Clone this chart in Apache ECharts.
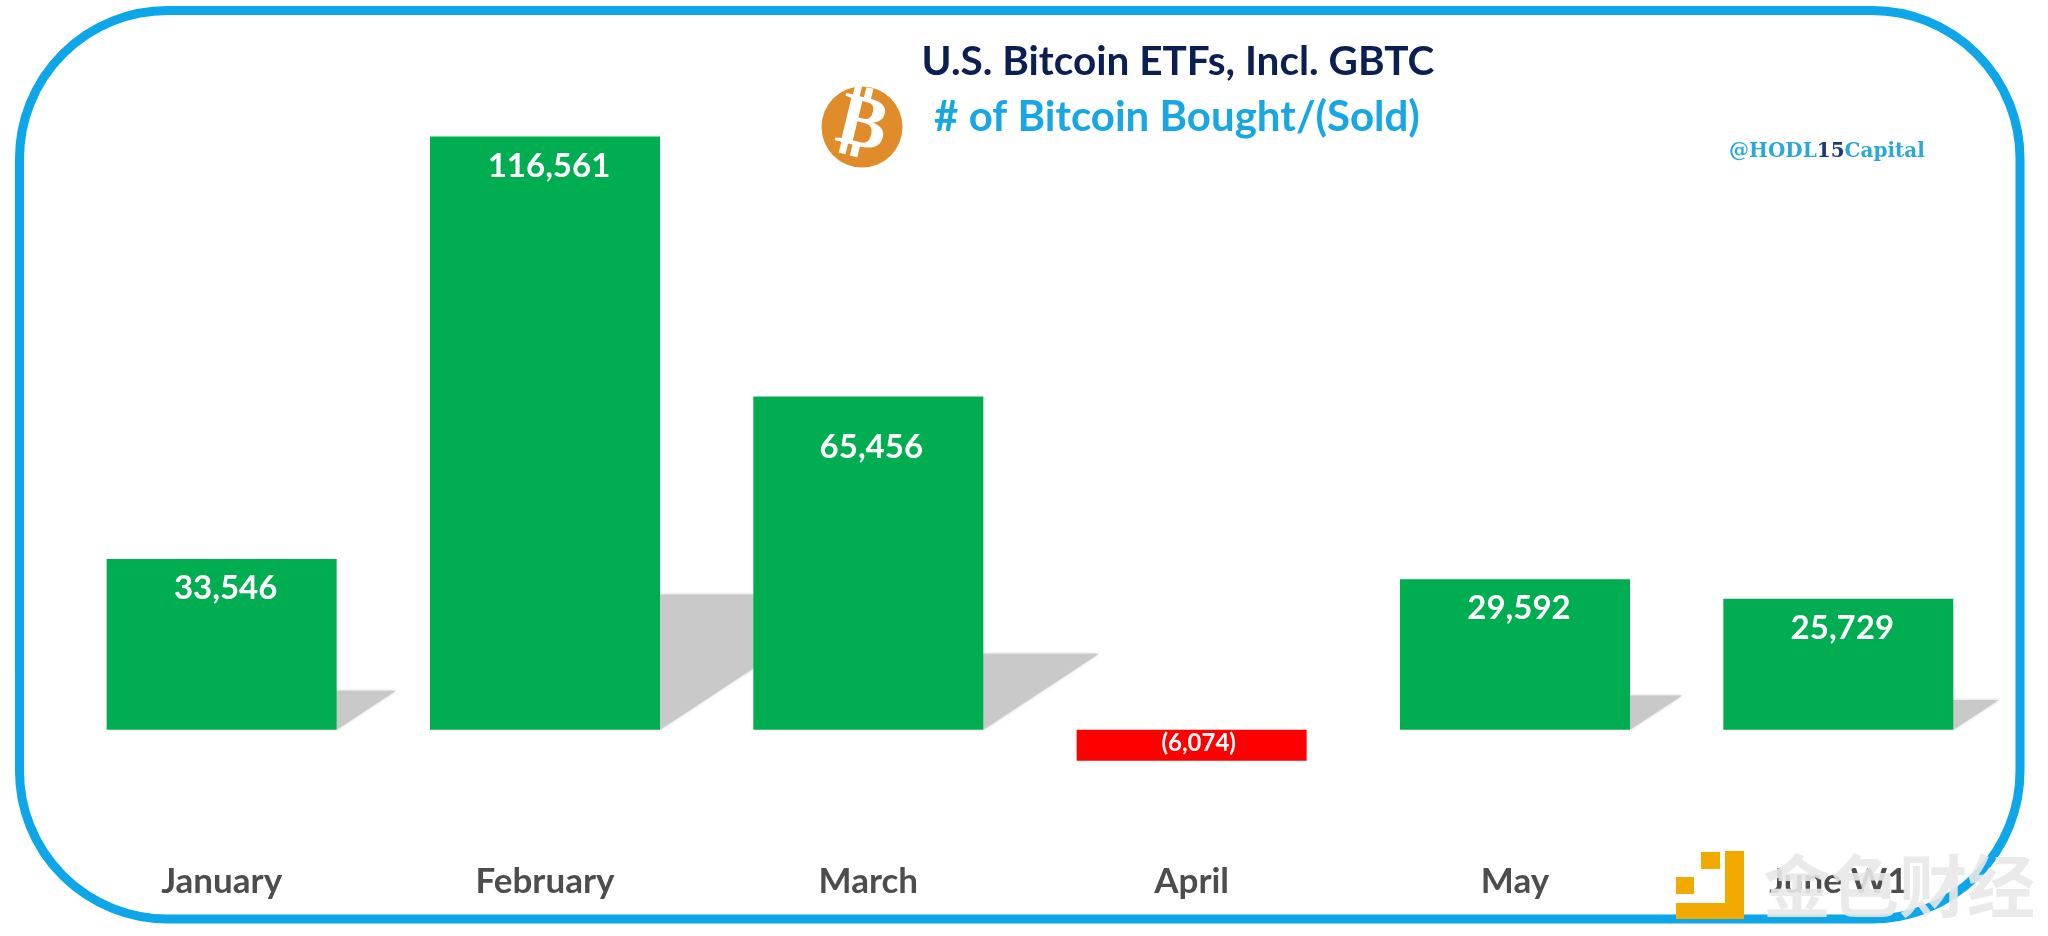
<!DOCTYPE html>
<html>
<head>
<meta charset="utf-8">
<title>U.S. Bitcoin ETFs</title>
<style>
html, body { margin: 0; padding: 0; background: #fff; }
#main { width: 2048px; height: 936px; }
</style>
<script src="https://cdn.jsdelivr.net/npm/echarts@6/dist/echarts.min.js"></script>
</head>
<body>
<div id="main"></div>
<script>
var categories = ['January', 'February', 'March', 'April', 'May', 'June W1'];
var btcBought = [33546, 116561, 65456, -6074, 29592, 25729];

var GREEN = '#00AD50';
var RED = '#FF0000';
var BAR_WIDTH = 230;
var LABEL_FONT = 'Lato';

var myChart = echarts.init(document.getElementById('main'));

function fmt(v) {
    var s = Math.abs(v).toLocaleString('en-US');
    return v < 0 ? '(' + s + ')' : s;
}

// grey slanted shadow behind the positive bars
function renderShadow(params, api) {
    var v = api.value(1);
    if (v <= 0) return null;
    var base = api.coord([api.value(0), 0]);
    var top = api.coord([api.value(0), v * 0.228]);
    var right = base[0] + BAR_WIDTH / 2;
    var h = base[1] - top[1];
    return {
        type: 'polygon',
        shape: { points: [[right, base[1]], [right, top[1]], [right + h * 1.52, top[1]]] },
        style: { fill: '#c9c9c9', shadowBlur: 3, shadowColor: 'rgba(170,170,170,0.6)' }
    };
}

var barData = btcBought.map(function (v, i) {
    var item = { value: v, itemStyle: { color: v < 0 ? RED : GREEN } };
    if (v < 0) {
        item.label = { position: 'inside', fontSize: 24, offset: [7, -1.5] };
    } else if (categories[i] === 'March') {
        item.label = { offset: [3, 21] };
    }
    return item;
});

myChart.setOption({
    animation: false,
    backgroundColor: '#fff',
    title: [
        {
            text: 'U.S. Bitcoin ETFs, Incl. GBTC',
            left: 1173, top: 36, textAlign: 'center',
            textStyle: { fontFamily: LABEL_FONT, fontWeight: 'bold', fontSize: 40.5, color: '#0C1F52' }
        },
        {
            text: '# of Bitcoin Bought/(Sold)',
            left: 1172, top: 91, textAlign: 'center',
            textStyle: { fontFamily: LABEL_FONT, fontWeight: 'bold', fontSize: 42, color: '#18A7E2' }
        }
    ],
    grid: { left: 60, width: 1940, top: 119, height: 738 },
    xAxis: {
        type: 'category',
        data: categories,
        position: 'bottom',
        axisLine: { show: false },
        axisTick: { show: false },
        axisLabel: {
            interval: 0, margin: 7,
            fontFamily: LABEL_FONT, fontWeight: 'bold', fontSize: 35, color: '#4D4D4D'
        }
    },
    yAxis: { type: 'value', min: -25000, max: 120000, show: false, splitLine: { show: false } },
    series: [
        {
            type: 'custom',
            z: 1,
            silent: true,
            encode: { x: 0, y: 1 },
            data: btcBought.map(function (v, i) { return [i, v]; }),
            renderItem: renderShadow
        },
        {
            type: 'bar',
            z: 2,
            barWidth: BAR_WIDTH,
            data: barData,
            label: {
                show: true,
                position: 'insideTop',
                distance: 13,
                offset: [4, 0],
                fontFamily: LABEL_FONT,
                fontWeight: 'bold',
                fontSize: 33,
                color: '#fff',
                formatter: function (p) { return fmt(p.value); }
            }
        }
    ],
    graphic: [
        {
            type: 'rect', z: 0, silent: true,
            shape: { x: 19.5, y: 10.5, width: 2000.5, height: 908.5, r: 148 },
            style: { fill: 'none', stroke: '#0DA6E8', lineWidth: 9 }
        },
        // bitcoin logo
        {
            type: 'circle', z: 5,
            shape: { cx: 862, cy: 127, r: 40.5 },
            style: { fill: '#E08C2A' }
        },
        {
            type: 'text', z: 6, x: 862, y: 127, rotation: -0.24,
            style: {
                text: '\u20BF', align: 'center', verticalAlign: 'middle',
                fontFamily: 'DejaVu Sans', fontWeight: 'bold', fontSize: 74, fill: '#fff'
            }
        },
        // handle
        {
            type: 'text', z: 5,
            style: {
                x: 1729, y: 142,
                rich: {
                    a: { fontFamily: 'DejaVu Serif', fontWeight: 'bold', fontSize: 20, fill: '#2BA8D8', color: '#2BA8D8' },
                    b: { fontFamily: 'DejaVu Serif', fontWeight: 'bold', fontSize: 20, fill: '#1C3A78', color: '#1C3A78' }
                },
                text: '{a|@HODL}{b|15}{a|Capital}'
            }
        },
        // watermark
        { type: 'rect', z: 20, shape: { x: 1676, y: 877, width: 18, height: 17 }, style: { fill: '#F2A900' } },
        { type: 'rect', z: 20, shape: { x: 1701, y: 852, width: 19, height: 17 }, style: { fill: '#F2A900' } },
        { type: 'rect', z: 20, shape: { x: 1725, y: 851, width: 19, height: 68 }, style: { fill: '#F2A900' } },
        { type: 'rect', z: 20, shape: { x: 1676, y: 903, width: 68, height: 16 }, style: { fill: '#F2A900' } },
        {
            type: 'text', z: 21,
            style: {
                text: '金色财经', x: 1899, y: 886, align: 'center', verticalAlign: 'middle',
                fontFamily: 'Noto Sans CJK SC', fontWeight: 'bold', fontSize: 68,
                fill: 'rgba(232,232,232,0.9)', shadowColor: 'rgba(70,70,70,0.75)', shadowBlur: 5, shadowOffsetX: 1, shadowOffsetY: 2
            }
        }
    ]
});
</script>
</body>
</html>
